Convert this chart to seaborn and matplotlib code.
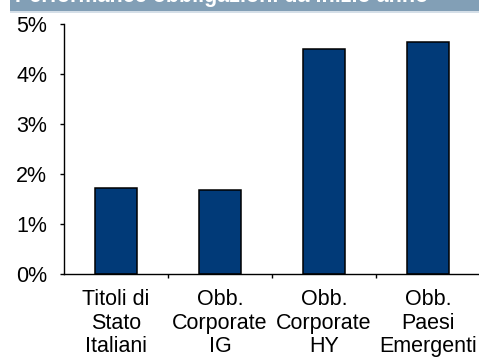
import matplotlib
matplotlib.use("Agg")
import matplotlib.pyplot as plt
from matplotlib.patches import Rectangle
from matplotlib.ticker import FixedLocator, FuncFormatter
import seaborn as sns
import pandas as pd

# Year-to-date bond performance by segment (%)
categories = ["Titoli di\nStato\nItaliani", "Obb.\nCorporate\nIG",
              "Obb.\nCorporate\nHY", "Obb.\nPaesi\nEmergenti"]
performance = [1.73, 1.68, 4.51, 4.64]
y_ticks = [0, 1, 2, 3, 4, 5]
title = "Performance obbligazioni da inizio anno"

sns.set_theme(style="white")
plt.rcParams["font.family"] = ["Liberation Sans", "DejaVu Sans"]

W, H, DPI = 479, 358, 100
fig = plt.figure(figsize=(W / DPI, H / DPI), dpi=DPI)

# header band with the chart title
fig.patches.append(Rectangle((10 / W, 1 - 11 / H), 1, 11 / H,
                             transform=fig.transFigure, facecolor="#829fb6",
                             edgecolor="none", zorder=0))
fig.patches.append(Rectangle((10 / W, 1 - 12.5 / H), 1, 1.5 / H,
                             transform=fig.transFigure, facecolor="#d5dfe8",
                             edgecolor="none", zorder=0))
fig.text(15 / W, 1 - 2 / H, title, color="white", fontsize=15.5,
         fontweight="bold", va="baseline", ha="left")

ax = fig.add_axes([64 / W, 84 / H, 416 / W, 250 / H])

df = pd.DataFrame({"cat": categories, "val": performance})
sns.barplot(data=df, x="cat", y="val", ax=ax, color="#013a78",
            saturation=1, width=0.4, edgecolor="black", linewidth=1.1)

ax.set_xlim(-0.5, 3.5)
ax.set_ylim(0, 5)
ax.set_xlabel("")
ax.set_ylabel("")

for s in ["top", "right"]:
    ax.spines[s].set_visible(False)
for s in ["left", "bottom"]:
    ax.spines[s].set_color("black")
    ax.spines[s].set_linewidth(1.0)

ax.yaxis.set_major_locator(FixedLocator(y_ticks))
ax.yaxis.set_major_formatter(FuncFormatter(lambda v, _: f"{v:.0f}%"))
ax.tick_params(axis="y", direction="out", length=3, width=1, color="black",
               pad=9, labelsize=15.5, labelcolor="black", left=True)

ax.set_xticks(range(len(categories)))
ax.set_xticklabels(categories, fontsize=15.5, color="black", linespacing=1.16)
ax.tick_params(axis="x", which="major", length=0, pad=11)
ax.xaxis.set_minor_locator(FixedLocator([0.5, 1.5, 2.5]))
ax.tick_params(axis="x", which="minor", direction="out", length=3, width=1,
               color="black", bottom=True)

fig.savefig("out.png", dpi=DPI)
